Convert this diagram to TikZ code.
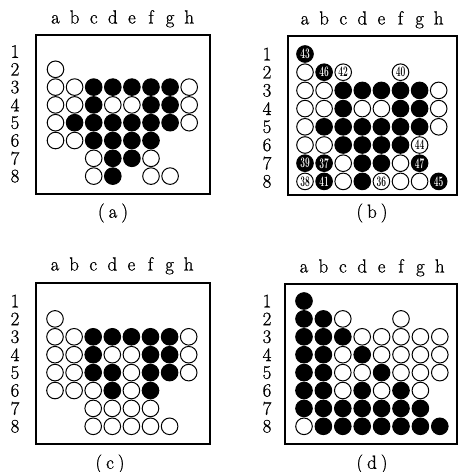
\documentclass[tikz,border=0pt]{standalone}
\usepackage{fontspec}
\setmainfont{Latin Modern Roman}
\newfontfamily\labfont[FakeBold=0.8]{Latin Modern Roman}
\usepackage{graphicx}
\tikzset{
  st/.style={circle, draw, line width=1pt, minimum size=16.6pt, inner sep=0pt,
    font=\fontsize{14.5}{14}\selectfont\bfseries},
  W/.style={st, fill=white, text=black},
  B/.style={st, fill=black, text=white},
  lab/.style={font=\labfont\fontsize{19}{19}\selectfont, inner sep=0pt},
  frm/.style={line width=1.7pt},
}
\newcommand\nm[1]{\scalebox{0.58}[1]{#1}}
\newcommand\boardcap[1]{(\hspace{4pt}#1\hspace{4pt})}
% #1 name, #2 x origin, #3 y origin, #4 xstep, #5 ystep, #6 col-label offset, #7 row-label offset, #8 stones
\newcommand\drawboard[8]{%
  \begin{scope}[xshift=#2pt, yshift=-#3pt, x=#4pt, y=-#5pt]
    \foreach \c/\l in {0/a,1/b,2/c,3/d,4/e,5/f,6/g,7/h}
      \node[lab, anchor=base] (#1-c\c) at ([yshift=#6pt]\c,0) {\l};
    \foreach \r in {0,...,7}{
      \pgfmathtruncatemacro\rr{\r+1}
      \node[lab] (#1-r\r) at ([xshift=-#7pt]0,\r) {\rr};}
    \foreach \c/\r/\t/\n [count=\k] in {#8}
      \node[\t] (#1-s\k) at (\c,\r) {\n};
  \end{scope}}
\begin{document}
\begin{tikzpicture}[x=1pt,y=-1pt]
\useasboundingbox (0,0) rectangle (458,472);
% frames
\draw[frm] (36,35) rectangle (210,194);
\draw[frm] (288,36) rectangle (457,195);
\draw[frm] (36,283) rectangle (210,444);
\draw[frm] (285,284) rectangle (457,444);
% (a)
\drawboard{A}{55.5}{51.5}{19.1}{17.8}{28}{40.5}{%
0/1/W/,
0/2/W/,1/2/W/,2/2/B/,3/2/B/,4/2/B/,5/2/B/,6/2/B/,7/2/W/,
0/3/W/,1/3/W/,2/3/B/,3/3/W/,4/3/W/,5/3/B/,6/3/B/,7/3/W/,
0/4/W/,1/4/B/,2/4/B/,3/4/B/,4/4/B/,5/4/B/,6/4/B/,7/4/W/,
0/5/W/,1/5/W/,2/5/B/,3/5/B/,4/5/B/,5/5/B/,
2/6/W/,3/6/B/,4/6/B/,5/6/W/,
2/7/W/,3/7/B/,5/7/W/,6/7/W/}
% (b)
\drawboard{Bd}{305}{54}{19.1}{18.2}{29.5}{38}{%
0/0/B/\nm{43},
0/1/W/,1/1/B/\nm{46},2/1/W/\nm{42},5/1/W/\nm{40},
0/2/W/,1/2/W/,2/2/B/,3/2/B/,4/2/B/,5/2/B/,6/2/B/,7/2/W/,
0/3/W/,1/3/W/,2/3/B/,3/3/W/,4/3/W/,5/3/B/,6/3/B/,7/3/W/,
0/4/W/,1/4/B/,2/4/B/,3/4/B/,4/4/B/,5/4/B/,6/4/B/,7/4/W/,
0/5/W/,1/5/W/,2/5/B/,3/5/B/,4/5/B/,5/5/B/,6/5/W/\nm{44},
0/6/B/\nm{39},1/6/B/\nm{37},2/6/W/,3/6/B/,4/6/B/,5/6/W/,6/6/B/\nm{47},
0/7/W/\nm{38},1/7/B/\nm{41},2/7/W/,3/7/B/,4/7/W/\nm{36},5/7/W/,6/7/W/,7/7/B/\nm{45}}
% (c)
\drawboard{C}{55}{301}{19.1}{17.9}{30.5}{40}{%
0/1/W/,
0/2/W/,1/2/W/,2/2/B/,3/2/B/,4/2/B/,5/2/B/,6/2/B/,7/2/W/,
0/3/W/,1/3/W/,2/3/B/,3/3/W/,4/3/W/,5/3/B/,6/3/B/,7/3/W/,
0/4/W/,1/4/W/,2/4/B/,3/4/B/,4/4/W/,5/4/B/,6/4/B/,7/4/W/,
0/5/W/,1/5/W/,2/5/W/,3/5/B/,4/5/W/,5/5/B/,
2/6/W/,3/6/W/,4/6/W/,5/6/W/,
2/7/W/,3/7/W/,4/7/W/,5/7/W/,6/7/W/}
% (d)
\drawboard{D}{304}{301}{19.4}{17.9}{28.5}{37}{%
0/0/B/,
0/1/B/,1/1/B/,2/1/W/,5/1/W/,
0/2/B/,1/2/B/,2/2/B/,3/2/W/,4/2/W/,5/2/W/,6/2/W/,7/2/W/,
0/3/B/,1/3/B/,2/3/W/,3/3/B/,4/3/W/,5/3/W/,6/3/W/,7/3/W/,
0/4/B/,1/4/B/,2/4/W/,3/4/W/,4/4/B/,5/4/W/,6/4/W/,7/4/W/,
0/5/B/,1/5/B/,2/5/W/,3/5/B/,4/5/W/,5/5/B/,6/5/W/,
0/6/B/,1/6/B/,2/6/B/,3/6/B/,4/6/B/,5/6/B/,6/6/B/,
0/7/W/,1/7/B/,2/7/B/,3/7/B/,4/7/B/,5/7/B/,6/7/B/,7/7/B/}
% captions
\node[lab] (capA) at (113,213) {\boardcap{a}};
\node[lab] (capB) at (372,213) {\boardcap{b}};
\node[lab] (capC) at (110,464) {\boardcap{c}};
\node[lab] (capD) at (372,464) {\boardcap{d}};
\end{tikzpicture}
\end{document}
